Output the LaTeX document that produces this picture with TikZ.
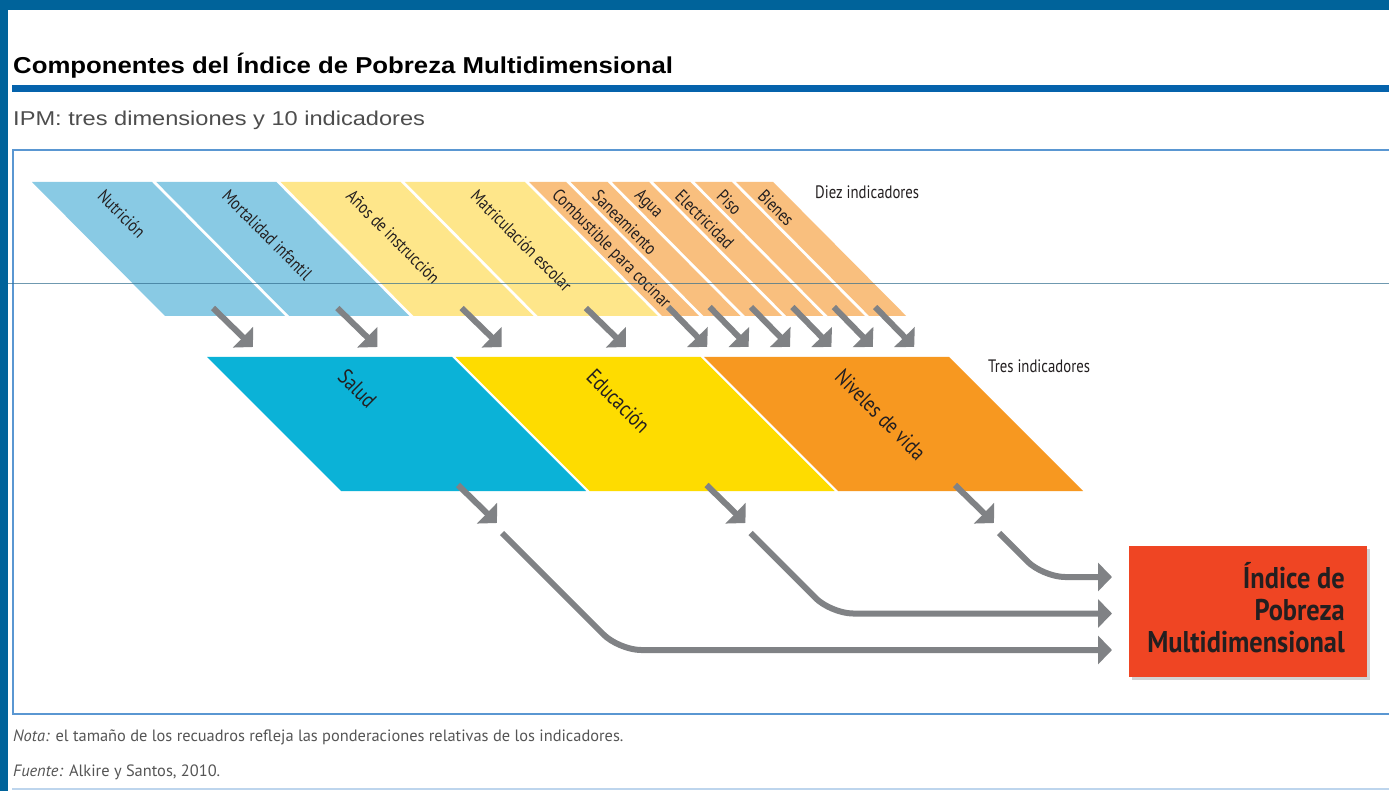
\documentclass[tikz,border=0pt]{standalone}
\usepackage{fontspec}
\setmainfont{PT Sans}
\newfontfamily\condf[FakeStretch=0.82]{PT Sans}
\newfontfamily\ipmf[FakeStretch=0.88]{PT Sans}
\newfontfamily\titlef[FakeStretch=1.12]{Liberation Sans}
\newfontfamily\subf[FakeStretch=1.18]{Liberation Sans}
\usetikzlibrary{arrows.meta,shadows}
\definecolor{frameblue}{HTML}{00639A}
\definecolor{ruleblue}{HTML}{0563AC}
\definecolor{boxline}{HTML}{5A97D2}
\definecolor{lblue}{HTML}{89CAE4}
\definecolor{lyellow}{HTML}{FEE68A}
\definecolor{lorange}{HTML}{F9BF7E}
\definecolor{dcyan}{HTML}{0BB2D7}
\definecolor{dyellow}{HTML}{FEDC00}
\definecolor{dorange}{HTML}{F79820}
\definecolor{ipmred}{HTML}{EF4523}
\definecolor{arrowgray}{HTML}{808285}
\definecolor{subgray}{HTML}{4D4D4D}
\definecolor{notegray}{HTML}{555555}
\definecolor{txt}{HTML}{231F20}
\begin{document}
\begin{tikzpicture}[x=1pt,y=-1pt,
  lbl/.style={anchor=west,rotate=-45,inner sep=0pt,text=txt,font=\condf\fontsize{18}{20}\selectfont},
  biglbl/.style={anchor=west,rotate=-45,inner sep=0pt,text=txt,font=\condf\fontsize{22}{24}\selectfont},
  sidelbl/.style={anchor=west,inner sep=0pt,text=txt,font=\condf\fontsize{18}{20}\selectfont},
  note/.style={anchor=west,inner sep=0pt,text=notegray,font=\fontsize{16.4}{18}\selectfont},
  garrow/.style={draw=arrowgray,line width=6pt,-{Triangle[length=14pt,width=28pt]}},
]
\useasboundingbox (0,0) rectangle (1389,791);
\begin{scope}
\clip (0,0) rectangle (1389,791);
\fill[white] (0,0) rectangle (1389,791);
\fill[frameblue] (0,0) rectangle (1389,10);
\fill[frameblue] (0,0) rectangle (8,791);
\node[anchor=west,inner sep=0pt,text=black,font=\titlef\bfseries\fontsize{23}{26}\selectfont] (title) at (13,66) {Componentes del Índice de Pobreza Multidimensional};
\fill[ruleblue] (12,85) rectangle (1389,92);
\node[anchor=west,inner sep=0pt,text=subgray,font=\subf\fontsize{20}{24}\selectfont] (sub) at (13,120) {IPM: tres dimensiones y 10 indicadores};
\draw[boxline,line width=2pt] (13,150) rectangle (1400,714);

% top row: ten indicators
\foreach \i/\col/\lab in {0/lblue/Nutrición,1/lblue/Mortalidad infantil,2/lyellow/Años de instrucción,3/lyellow/Matriculación escolar}{
  \pgfmathsetmacro\xa{32+124.3*\i}
  \fill[\col] (\xa,182) -- ++(120,0) -- ++(133,134) -- ++(-120,0) -- cycle;
  \node[lbl] (ind\i) at (\xa+69,193) {\lab};
}
\foreach \j/\lab in {0/Combustible para cocinar,1/Saneamiento,2/Agua,3/Electricidad,4/Piso,5/Bienes}{
  \pgfmathsetmacro\xa{529.2+41.4*\j}
  \fill[lorange] (\xa,182) -- ++(37,0) -- ++(133,134) -- ++(-37,0) -- cycle;
  \node[lbl] (ind\j o) at (\xa+25,193) {\lab};
}
\foreach \i in {0,...,3}{
  \pgfmathsetmacro\xa{32+124.3*\i}
  \coordinate (as\i) at (\xa+181,308);
  \coordinate (ae\i) at (\xa+221,347);
  \draw[garrow] (as\i) -- (ae\i);
}
\foreach \j in {0,...,5}{
  \pgfmathsetmacro\xa{529.2+41.4*\j}
  \coordinate (bs\j) at (\xa+139,307);
  \coordinate (be\j) at (\xa+178,347);
  \draw[garrow] (bs\j) -- (be\j);
}
\node[sidelbl] (diez) at (815,192) {Diez indicadores};

% middle row: three dimensions
\foreach \k/\col/\lab in {0/dcyan/Salud,1/dyellow/Educación,2/dorange/Niveles de vida}{
  \pgfmathsetmacro\xa{207+248.5*\k}
  \fill[\col] (\xa,357) -- ++(245,0) -- ++(134,134) -- ++(-245,0) -- cycle;
  \node[biglbl] (dim\k) at (\xa+135,373) {\lab};
}
\node[sidelbl] (tres) at (988,366) {Tres indicadores};

% final box
\node[fill=ipmred,minimum width=238pt,minimum height=131pt,anchor=north west,inner sep=0pt,
  drop shadow={shadow xshift=3pt,shadow yshift=-3pt,opacity=0.35}] (ipm) at (1129,546) {};
\node[anchor=east,align=right,inner sep=0pt,text=txt,font=\ipmf\bfseries\fontsize{30}{32}\selectfont] (ipmtxt) at (1345,608) {Índice de\\Pobreza\\Multidimensional};

\foreach \k in {0,1,2}{
  \pgfmathsetmacro\xa{207+248.5*\k}
  \pgfmathsetmacro\yc{650-36.5*\k}
  \coordinate (ms\k) at (\xa+251,485);
  \coordinate (me\k) at (\xa+290,523);
  \draw[garrow] (ms\k) -- (me\k);
  \coordinate (cs\k) at (\xa+295,533);
  \coordinate (cc\k) at (\xa+295+\yc-533,\yc);
  \coordinate (ct\k) at (1112,\yc);
  \draw[garrow,rounded corners=22pt] (cs\k) -- (cc\k) -- (ct\k);
}

% faint scan line
\draw[draw=frameblue!60!gray,opacity=0.7,line width=0.8pt] (8,283.5) -- (1389,283.5);

% notes
\node[note] (nota) at (13,737) {\textit{Nota:} el tamaño de los recuadros refleja las ponderaciones relativas de los indicadores.};
\node[note] (fuente) at (13,772) {\textit{Fuente:} Alkire y Santos, 2010.};
\draw[boxline!40,line width=1.5pt] (12,789) -- (1389,789);
\end{scope}
\end{tikzpicture}
\end{document}
